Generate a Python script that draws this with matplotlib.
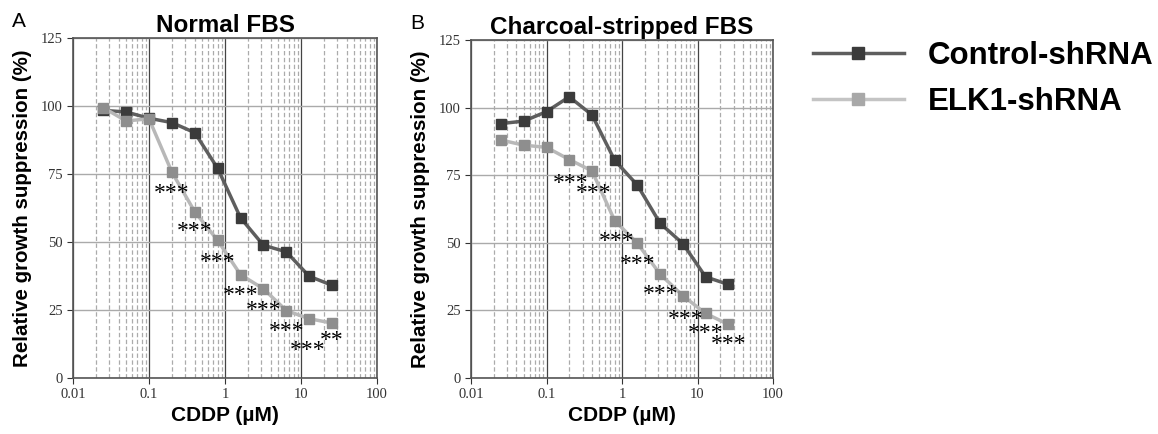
import matplotlib.pyplot as plt
from matplotlib.lines import Line2D
from matplotlib.ticker import LogLocator, NullFormatter

plt.rcParams['font.family'] = ['Liberation Sans', 'DejaVu Sans']

# concentrations (uM)
cddp = [0.025, 0.05, 0.1, 0.2, 0.4, 0.8, 1.6, 3.2, 6.4, 12.8, 25.6]

# panel A - normal FBS
ctrl_a = [98.4, 97.8, 95.5, 93.9, 90.2, 77.1, 58.9, 48.8, 46.4, 37.4, 34.1]
elk1_a = [99.4, 94.5, 95.3, 75.7, 61.1, 50.6, 38.0, 32.8, 24.8, 21.8, 20.2]
stars_a = ['***', '***', '***', '***', '***', '***', '***', '**']
stars_a_x = [0.2, 0.4, 0.8, 1.6, 3.2, 6.4, 12.3, 25.0]
stars_a_y = [68.0, 54.0, 42.3, 30.4, 25.0, 17.2, 10.0, 13.9]

# panel B - charcoal-stripped FBS
ctrl_b = [94.1, 95.0, 98.5, 104.0, 97.3, 80.5, 71.3, 57.2, 49.7, 37.4, 34.6]
elk1_b = [88.0, 86.1, 85.3, 80.8, 76.6, 58.2, 49.8, 38.4, 30.4, 23.9, 19.8]
stars_b = ['***'] * 8
stars_b_x = [0.21, 0.42, 0.86, 1.6, 3.3, 6.9, 13.0, 26.0]
stars_b_y = [72.1, 68.4, 50.6, 41.8, 31.0, 21.7, 16.4, 12.4]

yticks = [0, 25, 50, 75, 100, 125]

ctrl_line, ctrl_mk = '#5e5e5e', '#3b3b3b'
elk_line, elk_mk = '#b8b8b8', '#8e8e8e'

fig = plt.figure(figsize=(11.58, 4.34), dpi=100)
ax_a = fig.add_axes([73/1158, 56/434, 304/1158, 340/434])
ax_b = fig.add_axes([471/1158, 56/434, 302/1158, 338/434])


def draw_panel(ax, ctrl, elk, stars, sx, sy, title, letter):
    ax.set_xscale('log')
    ax.set_xlim(0.01, 100)
    ax.set_ylim(0, 125)
    ax.set_yticks(yticks)
    ax.xaxis.set_minor_locator(LogLocator(base=10, subs=range(2, 10), numticks=10))
    ax.xaxis.set_minor_formatter(NullFormatter())
    ax.set_xticks([0.01, 0.1, 1, 10, 100])
    ax.set_xticklabels(['0.01', '0.1', '1', '10', '100'])
    ax.grid(which='minor', axis='x', color='#ababab', ls=(0, (3.5, 2)), lw=0.9)
    ax.grid(which='major', axis='x', color='#444444', ls='-', lw=0.9)
    ax.grid(which='major', axis='y', color='#aaaaaa', ls='-', lw=1.0)
    ax.set_axisbelow(True)
    for s in ax.spines.values():
        s.set_color('#555555')
        s.set_linewidth(1.2)
    ax.tick_params(which='minor', length=0)
    ax.tick_params(which='major', direction='out', length=4, color='#333333',
                   labelsize=10.5, labelcolor='#333333')
    for lab in ax.get_xticklabels() + ax.get_yticklabels():
        lab.set_family('Liberation Serif')

    ax.plot(cddp, ctrl, color=ctrl_line, lw=2.5, marker='s', ms=7.5,
            mfc=ctrl_mk, mec=ctrl_mk, zorder=3)
    ax.plot(cddp, elk, color=elk_line, lw=2.5, marker='s', ms=7.5,
            mfc=elk_mk, mec=elk_mk, zorder=4)
    for t, x, y in zip(stars, sx, sy):
        ax.text(x, y, t, ha='center', va='center', fontsize=17,
                family='Liberation Serif', color='black', zorder=5)

    ax.set_title(title, fontsize=17.5, fontweight='bold', pad=4)
    ax.set_ylabel('Relative growth suppression (%)', fontsize=14.8,
                  fontweight='bold', labelpad=6)
    ax.set_xlabel('CDDP (\u00b5M)', fontsize=15, fontweight='bold', labelpad=3)
    ax.text(-0.2, 1.02, letter, transform=ax.transAxes, fontsize=15,
            ha='left', va='bottom')


draw_panel(ax_a, ctrl_a, elk1_a, stars_a, stars_a_x, stars_a_y, 'Normal FBS', 'A')
draw_panel(ax_b, ctrl_b, elk1_b, stars_b, stars_b_x, stars_b_y,
           'Charcoal-stripped FBS', 'B')

handles = [
    Line2D([], [], color=ctrl_line, lw=2.5, marker='s', ms=8,
           mfc='#3b3b3b', mec='#3b3b3b', markevery=[0, 1]),
    Line2D([], [], color='#c4c4c4', lw=2.5, marker='s', ms=8,
           mfc='#a8a8a8', mec='#a8a8a8', markevery=[0, 1]),
]
fig.legend(handles, ['Control-shRNA', 'ELK1-shRNA'], loc='upper left',
           bbox_to_anchor=(785/1158, 1 - 13/434), frameon=False,
           prop={'size': 22.5, 'weight': 'bold'}, handlelength=2.9,
           handletextpad=0.77, labelspacing=0.5)

fig.savefig('out.png', dpi=100)
